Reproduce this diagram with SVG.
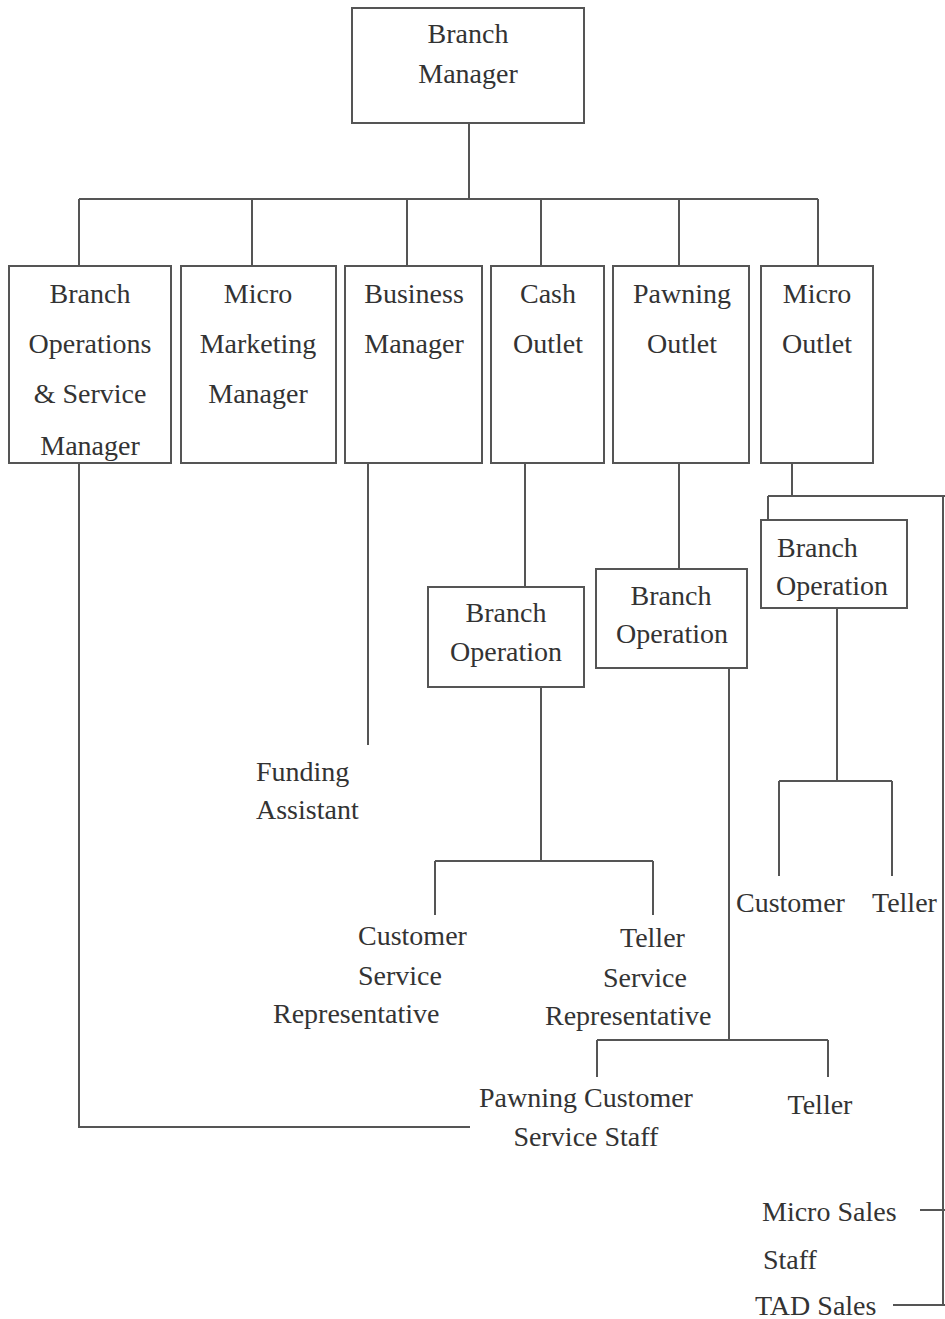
<svg xmlns="http://www.w3.org/2000/svg" width="945" height="1319" viewBox="0 0 945 1319">
<style>
.box{fill:#fff;stroke:#555;stroke-width:2}
.ln{fill:none;stroke:#555;stroke-width:2}
text{font-family:"Liberation Serif","Times New Roman",serif;font-size:28px;fill:#333}
.c{text-anchor:middle}
</style>
<defs>
<clipPath id="clip1"><rect x="9" y="266" width="162" height="196"/></clipPath>
</defs>
<rect width="945" height="1319" fill="#fff"/>
<g id="connectors">
<path class="ln" d="M469 123V199M79 199H818M79 199V266M252 199V266M407 199V266M541 199V266M679 199V266M818 199V266"/>
<path class="ln" d="M79 463V1127H470"/>
<path class="ln" d="M368 463V745"/>
<path class="ln" d="M525 463V587"/>
<path class="ln" d="M541 687V861M435 861H653M435 861V915M653 861V915"/>
<path class="ln" d="M679 463V569"/>
<path class="ln" d="M729 668V1040M597 1040H828M597 1040V1077M828 1040V1077"/>
<path class="ln" d="M792 463V496M768 496H945M768 496V520M943 496V1305"/>
<path class="ln" d="M837 608V781M779 781H892M779 781V876M892 781V876"/>
<path class="ln" d="M920 1210H945M893 1305H945"/>
</g>
<g id="branch-manager"><rect class="box" x="352" y="8" width="232" height="115"/><text class="c" x="468" y="43">Branch</text><text class="c" x="468" y="83">Manager</text></g>
<g id="branch-ops-service-manager"><rect class="box" x="9" y="266" width="162" height="197"/><g clip-path="url(#clip1)"><text class="c" x="90" y="303">Branch</text><text class="c" x="90" y="353">Operations</text><text class="c" x="90" y="403">&amp; Service</text><text class="c" x="90" y="455">Manager</text></g></g>
<g id="micro-marketing-manager"><rect class="box" x="181" y="266" width="155" height="197"/><text class="c" x="258" y="303">Micro</text><text class="c" x="258" y="353">Marketing</text><text class="c" x="258" y="403">Manager</text></g>
<g id="business-manager"><rect class="box" x="345" y="266" width="137" height="197"/><text class="c" x="414" y="303">Business</text><text class="c" x="414" y="353">Manager</text></g>
<g id="cash-outlet"><rect class="box" x="491" y="266" width="113" height="197"/><text class="c" x="548" y="303">Cash</text><text class="c" x="548" y="353">Outlet</text></g>
<g id="pawning-outlet"><rect class="box" x="613" y="266" width="136" height="197"/><text class="c" x="682" y="303">Pawning</text><text class="c" x="682" y="353">Outlet</text></g>
<g id="micro-outlet"><rect class="box" x="761" y="266" width="112" height="197"/><text class="c" x="817" y="303">Micro</text><text class="c" x="817" y="353">Outlet</text></g>
<g id="funding-assistant"><text x="256" y="781">Funding</text><text x="256" y="819">Assistant</text></g>
<g id="cash-branch-operation"><rect class="box" x="428" y="587" width="156" height="100"/><text class="c" x="506" y="622">Branch</text><text class="c" x="506" y="661">Operation</text></g>
<g id="pawning-branch-operation"><rect class="box" x="596" y="569" width="151" height="99"/><text class="c" x="671" y="605">Branch</text><text class="c" x="672" y="643">Operation</text></g>
<g id="micro-branch-operation"><rect class="box" x="761" y="520" width="146" height="88"/><text x="777" y="557">Branch</text><text x="776" y="595">Operation</text></g>
<g id="customer-service-rep"><text x="358" y="945">Customer</text><text x="358" y="985">Service</text><text x="273" y="1023">Representative</text></g>
<g id="teller-service-rep"><text x="620" y="947">Teller</text><text x="603" y="987">Service</text><text x="545" y="1025">Representative</text></g>
<g id="pawning-customer-service-staff"><text class="c" x="586" y="1107">Pawning Customer</text><text class="c" x="586" y="1146">Service Staff</text></g>
<g id="pawning-teller"><text class="c" x="820" y="1114">Teller</text></g>
<g id="micro-customer"><text x="736" y="912">Customer</text></g>
<g id="micro-teller"><text x="872" y="912">Teller</text></g>
<g id="micro-sales-staff"><text x="762" y="1221">Micro Sales</text><text x="763" y="1269">Staff</text></g>
<g id="tad-sales"><text x="755" y="1315">TAD Sales</text></g>
</svg>
